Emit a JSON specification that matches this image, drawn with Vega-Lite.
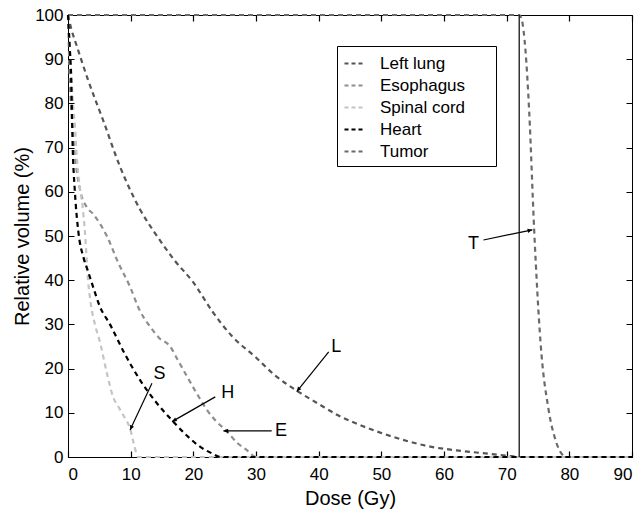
{
  "$schema": "https://vega.github.io/schema/vega-lite/v6.json",
  "width": 564,
  "height": 442,
  "autosize": "none",
  "padding": {"left": 68, "top": 15, "right": 11, "bottom": 55},
  "background": "white",
  "config": {
    "font": "Liberation Sans",
    "view": {"stroke": "black", "strokeWidth": 1},
    "axis": {"domainColor": "black", "labelColor": "black", "titleColor": "black", "labelFontSize": 17, "titleFontSize": 20, "titleFontWeight": "normal", "labelFont": "Liberation Sans", "titleFont": "Liberation Sans", "ticks": false, "grid": true, "gridColor": "black", "gridOpacity": 1, "gridWidth": 1.2}
  },
  "datasets": {
    "dvh": [
      {"organ": "Tumor", "dose": 0, "vol": 100}, {"organ": "Tumor", "dose": 72, "vol": 100}, {"organ": "Tumor", "dose": 72.4, "vol": 99}, {"organ": "Tumor", "dose": 73, "vol": 92}, {"organ": "Tumor", "dose": 73.6, "vol": 78}, {"organ": "Tumor", "dose": 74.4, "vol": 51}, {"organ": "Tumor", "dose": 75.4, "vol": 26}, {"organ": "Tumor", "dose": 76.7, "vol": 10.6}, {"organ": "Tumor", "dose": 77.8, "vol": 3.8}, {"organ": "Tumor", "dose": 78.9, "vol": 0.5}, {"organ": "Tumor", "dose": 79.5, "vol": 0}, {"organ": "Tumor", "dose": 90, "vol": 0},
      {"organ": "Left lung", "dose": 0, "vol": 100}, {"organ": "Left lung", "dose": 0.5, "vol": 97}, {"organ": "Left lung", "dose": 1.4, "vol": 93}, {"organ": "Left lung", "dose": 3.2, "vol": 85.3}, {"organ": "Left lung", "dose": 5.6, "vol": 76.2}, {"organ": "Left lung", "dose": 8.3, "vol": 65.7}, {"organ": "Left lung", "dose": 11.5, "vol": 56}, {"organ": "Left lung", "dose": 14.2, "vol": 50}, {"organ": "Left lung", "dose": 17, "vol": 44.5}, {"organ": "Left lung", "dose": 20, "vol": 39.5}, {"organ": "Left lung", "dose": 23, "vol": 33}, {"organ": "Left lung", "dose": 26, "vol": 27.6}, {"organ": "Left lung", "dose": 30, "vol": 22.5}, {"organ": "Left lung", "dose": 33, "vol": 18.5}, {"organ": "Left lung", "dose": 36.5, "vol": 15}, {"organ": "Left lung", "dose": 40, "vol": 12}, {"organ": "Left lung", "dose": 43, "vol": 9.5}, {"organ": "Left lung", "dose": 47, "vol": 7}, {"organ": "Left lung", "dose": 52, "vol": 4.5}, {"organ": "Left lung", "dose": 58, "vol": 2.3}, {"organ": "Left lung", "dose": 62, "vol": 1.5}, {"organ": "Left lung", "dose": 66, "vol": 0.9}, {"organ": "Left lung", "dose": 70, "vol": 0.3}, {"organ": "Left lung", "dose": 72, "vol": 0}, {"organ": "Left lung", "dose": 90, "vol": 0},
      {"organ": "Esophagus", "dose": 0, "vol": 100}, {"organ": "Esophagus", "dose": 0.3, "vol": 85}, {"organ": "Esophagus", "dose": 0.7, "vol": 75}, {"organ": "Esophagus", "dose": 1.2, "vol": 67}, {"organ": "Esophagus", "dose": 2, "vol": 60}, {"organ": "Esophagus", "dose": 3, "vol": 56.5}, {"organ": "Esophagus", "dose": 4, "vol": 55}, {"organ": "Esophagus", "dose": 5, "vol": 53}, {"organ": "Esophagus", "dose": 6.2, "vol": 50}, {"organ": "Esophagus", "dose": 8, "vol": 44}, {"organ": "Esophagus", "dose": 9.9, "vol": 38.5}, {"organ": "Esophagus", "dose": 11.5, "vol": 33}, {"organ": "Esophagus", "dose": 13.1, "vol": 29.5}, {"organ": "Esophagus", "dose": 14.5, "vol": 27}, {"organ": "Esophagus", "dose": 16.3, "vol": 25}, {"organ": "Esophagus", "dose": 17.5, "vol": 22}, {"organ": "Esophagus", "dose": 19, "vol": 18.2}, {"organ": "Esophagus", "dose": 20.5, "vol": 14.5}, {"organ": "Esophagus", "dose": 22.2, "vol": 10.6}, {"organ": "Esophagus", "dose": 23.7, "vol": 8}, {"organ": "Esophagus", "dose": 25.3, "vol": 5.9}, {"organ": "Esophagus", "dose": 27, "vol": 3.2}, {"organ": "Esophagus", "dose": 28.5, "vol": 1.6}, {"organ": "Esophagus", "dose": 30, "vol": 0}, {"organ": "Esophagus", "dose": 90, "vol": 0},
      {"organ": "Spinal cord", "dose": 0, "vol": 100}, {"organ": "Spinal cord", "dose": 0.4, "vol": 90}, {"organ": "Spinal cord", "dose": 0.8, "vol": 80}, {"organ": "Spinal cord", "dose": 1.1, "vol": 75}, {"organ": "Spinal cord", "dose": 1.4, "vol": 68}, {"organ": "Spinal cord", "dose": 1.8, "vol": 62}, {"organ": "Spinal cord", "dose": 2.3, "vol": 57}, {"organ": "Spinal cord", "dose": 2.7, "vol": 51}, {"organ": "Spinal cord", "dose": 3.2, "vol": 40}, {"organ": "Spinal cord", "dose": 3.6, "vol": 35}, {"organ": "Spinal cord", "dose": 4.3, "vol": 30}, {"organ": "Spinal cord", "dose": 5.1, "vol": 26}, {"organ": "Spinal cord", "dose": 6.2, "vol": 19}, {"organ": "Spinal cord", "dose": 7.2, "vol": 13.6}, {"organ": "Spinal cord", "dose": 8.2, "vol": 11}, {"organ": "Spinal cord", "dose": 9.2, "vol": 8.5}, {"organ": "Spinal cord", "dose": 9.9, "vol": 6.5}, {"organ": "Spinal cord", "dose": 10.5, "vol": 3}, {"organ": "Spinal cord", "dose": 11.2, "vol": 0}, {"organ": "Spinal cord", "dose": 90, "vol": 0},
      {"organ": "Heart", "dose": 0, "vol": 100}, {"organ": "Heart", "dose": 0.3, "vol": 92}, {"organ": "Heart", "dose": 0.5, "vol": 86}, {"organ": "Heart", "dose": 0.75, "vol": 70}, {"organ": "Heart", "dose": 1.1, "vol": 60}, {"organ": "Heart", "dose": 1.65, "vol": 51}, {"organ": "Heart", "dose": 2.5, "vol": 45}, {"organ": "Heart", "dose": 3.2, "vol": 42}, {"organ": "Heart", "dose": 4, "vol": 38.5}, {"organ": "Heart", "dose": 5.1, "vol": 34}, {"organ": "Heart", "dose": 6.7, "vol": 30}, {"organ": "Heart", "dose": 9, "vol": 23.5}, {"organ": "Heart", "dose": 11.5, "vol": 17.4}, {"organ": "Heart", "dose": 14, "vol": 12.5}, {"organ": "Heart", "dose": 16.8, "vol": 8}, {"organ": "Heart", "dose": 19, "vol": 4.8}, {"organ": "Heart", "dose": 21.1, "vol": 2.3}, {"organ": "Heart", "dose": 23, "vol": 0.8}, {"organ": "Heart", "dose": 24.3, "vol": 0}, {"organ": "Heart", "dose": 90, "vol": 0}
    ],
    "notes": [
      {"label": "T", "tx": 64.7, "ty": 48.3, "x1": 66.3, "y1": 49.1, "x2": 74.1, "y2": 51.4, "angle": 78},
      {"label": "L", "tx": 42.8, "ty": 25, "x1": 41.6, "y1": 23.8, "x2": 36.5, "y2": 14.8, "angle": 218},
      {"label": "H", "tx": 25.5, "ty": 14.4, "x1": 23.5, "y1": 13.6, "x2": 16.6, "y2": 8, "angle": 240},
      {"label": "E", "tx": 34, "ty": 5.9, "x1": 32.5, "y1": 5.9, "x2": 24.8, "y2": 5.9, "angle": 270},
      {"label": "S", "tx": 14.6, "ty": 18.8, "x1": 13.4, "y1": 16.7, "x2": 9.9, "y2": 6.1, "angle": 205}
    ],
    "rx": [{"dose": 72, "lo": 0, "hi": 100}]
  },
  "layer": [
    {
      "data": {"name": "dvh"},
      "mark": {"type": "line", "strokeWidth": 2.2, "strokeDash": [5, 4], "interpolate": "monotone"},
      "encoding": {
        "x": {"field": "dose", "type": "quantitative", "scale": {"domain": [0, 90], "nice": false},
              "axis": {"orient": "bottom", "title": "Dose (Gy)", "values": [0,10,20,30,40,50,60,70,80,90], "labelPadding": 9, "titlePadding": 6, "gridDash": [6, 430]}},
        "y": {"field": "vol", "type": "quantitative", "scale": {"domain": [0, 100], "nice": false},
              "axis": {"orient": "left", "title": "Relative volume (%)", "values": [0,10,20,30,40,50,60,70,80,90,100], "labelPadding": 5, "titlePadding": 2, "gridDash": [6, 552]}},
        "color": {"field": "organ", "type": "nominal",
                  "scale": {"domain": ["Left lung", "Esophagus", "Spinal cord", "Heart", "Tumor"], "range": ["#555555", "#8e8e8e", "#c4c4c4", "#000000", "#6a6a6a"]},
                  "legend": {"title": null, "orient": "none", "legendX": 269, "legendY": 31, "symbolType": "stroke", "symbolStrokeWidth": 2.2, "symbolDash": [4, 3], "symbolSize": 400, "labelFontSize": 17, "labelFont": "Liberation Sans", "labelColor": "black", "strokeColor": "black", "fillColor": "white", "padding": 6, "rowPadding": 2, "labelOffset": 14, "labelExpr": "datum.label + '\u2800\u2800'"}},
        "detail": {"field": "organ"}
      }
    },
    {
      "data": {"name": "rx"},
      "mark": {"type": "rule", "color": "black", "strokeWidth": 1.2},
      "encoding": {
        "x": {"field": "dose", "type": "quantitative"},
        "y": {"field": "lo", "type": "quantitative"},
        "y2": {"field": "hi"}
      }
    },
    {
      "data": {"name": "notes"},
      "mark": {"type": "rule", "color": "black", "strokeWidth": 1.2},
      "encoding": {
        "x": {"field": "x1", "type": "quantitative"},
        "y": {"field": "y1", "type": "quantitative"},
        "x2": {"field": "x2"},
        "y2": {"field": "y2"}
      }
    },
    {
      "data": {"name": "notes"},
      "mark": {"type": "point", "shape": "M0,0L-0.45,1L0.45,1Z", "filled": true, "color": "black", "size": 90, "opacity": 1},
      "encoding": {
        "x": {"field": "x2", "type": "quantitative"},
        "y": {"field": "y2", "type": "quantitative"},
        "angle": {"field": "angle", "type": "quantitative", "scale": null}
      }
    },
    {
      "data": {"name": "notes"},
      "mark": {"type": "text", "fontSize": 18, "font": "Liberation Sans", "color": "black", "align": "center", "baseline": "middle"},
      "encoding": {
        "x": {"field": "tx", "type": "quantitative"},
        "y": {"field": "ty", "type": "quantitative"},
        "text": {"field": "label"}
      }
    }
  ]
}
